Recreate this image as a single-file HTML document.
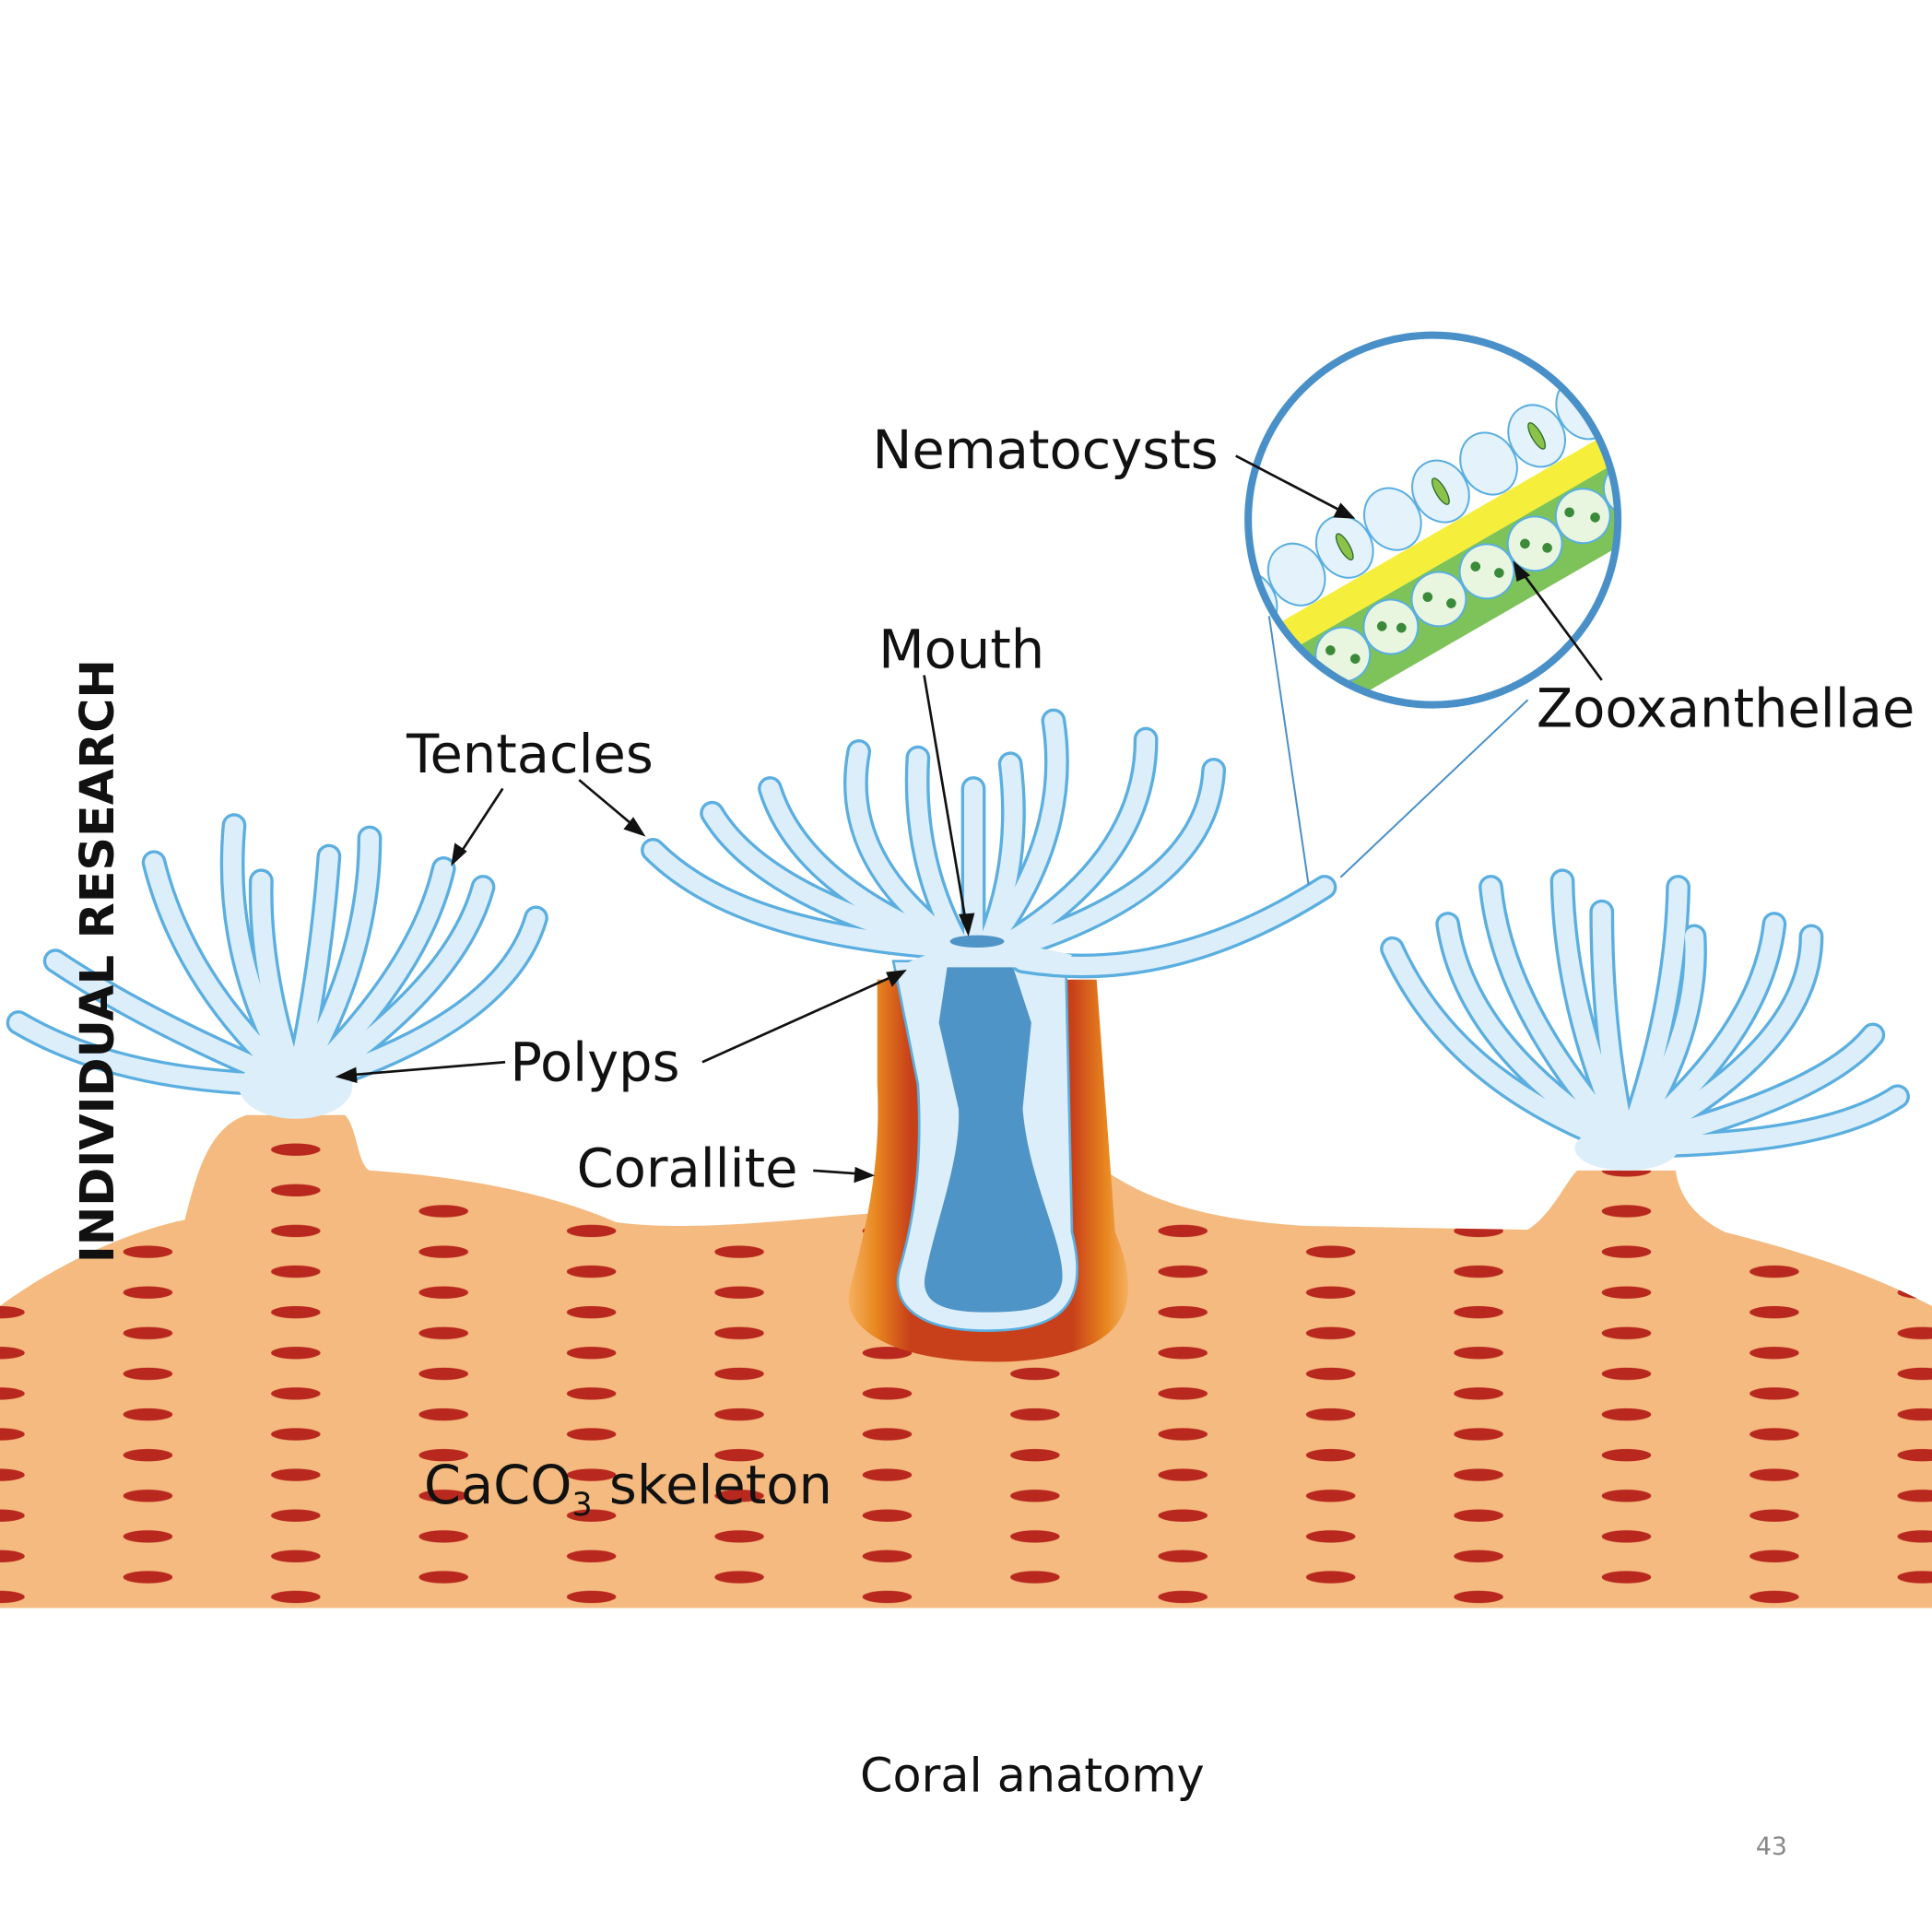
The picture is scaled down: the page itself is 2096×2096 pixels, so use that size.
<!DOCTYPE html>
<html><head><meta charset="utf-8"><style>
html,body{margin:0;padding:0;background:#fff;width:2096px;height:2096px;overflow:hidden}
svg{display:block}
text{font-family:"DejaVu Sans","Liberation Sans",sans-serif;fill:#111}
</style></head><body>
<svg width="2096" height="2096" viewBox="0 0 1568 1568" xmlns="http://www.w3.org/2000/svg">
<defs>
<pattern id="dash" x="0" y="1040" width="240" height="33" patternUnits="userSpaceOnUse">
<ellipse cx="120" cy="9" rx="20" ry="5" fill="#B8281E"/>
<ellipse cx="0" cy="25" rx="20" ry="5" fill="#B8281E"/>
<ellipse cx="240" cy="25" rx="20" ry="5" fill="#B8281E"/>
</pattern>
<linearGradient id="cor" x1="0" x2="1">
<stop offset="0" stop-color="#F5B060"/><stop offset="0.1" stop-color="#E8861E"/><stop offset="0.22" stop-color="#C8401A"/><stop offset="0.8" stop-color="#C8401A"/><stop offset="0.92" stop-color="#E8861E"/><stop offset="1" stop-color="#F5B060"/>
</linearGradient>
<clipPath id="circ"><circle cx="1163" cy="422" r="150"/></clipPath>
<g id="tp">
<path d="M780,770 Q600,760 530,690"/><path d="M780,770 Q620,730 578,660"/>
<path d="M780,770 Q650,720 625,640"/><path d="M780,770 Q680,700 697,610"/>
<path d="M780,770 Q740,700 745,615"/><path d="M790,770 Q790,700 790,640"/>
<path d="M800,770 Q830,700 820,620"/><path d="M800,770 Q870,680 855,585"/>
<path d="M810,770 Q930,700 930,600"/><path d="M820,770 Q980,720 985,625"/>
<path d="M830,780 Q950,800 1075,720"/>
<path d="M240,880 Q100,880 15,830"/><path d="M240,880 Q120,830 45,780"/>
<path d="M240,880 Q150,800 125,700"/><path d="M240,880 Q180,780 190,670"/>
<path d="M240,880 Q210,790 212,715"/><path d="M240,880 Q260,790 267,695"/>
<path d="M240,880 Q300,780 300,680"/><path d="M245,880 Q340,790 360,705"/>
<path d="M250,880 Q370,800 392,720"/><path d="M250,880 Q410,830 435,745"/>
<path d="M1320,930 Q1180,880 1130,770"/><path d="M1320,930 Q1190,850 1175,750"/>
<path d="M1320,930 Q1220,820 1210,720"/><path d="M1320,930 Q1270,820 1268,715"/>
<path d="M1320,930 Q1300,840 1300,740"/><path d="M1320,930 Q1360,820 1362,720"/>
<path d="M1320,930 Q1380,840 1375,760"/><path d="M1320,930 Q1430,840 1440,750"/>
<path d="M1320,930 Q1470,850 1470,760"/><path d="M1320,930 Q1480,890 1520,840"/>
<path d="M1320,930 Q1480,930 1540,890"/>
</g>
</defs>
<rect width="1568" height="1568" fill="#fff"/>
<!-- skeleton -->
<path d="M0,1060 C40,1030 100,1000 150,990 C160,950 170,915 200,905 L280,905 C290,915 290,945 300,950 C380,955 450,970 500,992 C560,1000 640,990 705,985 L890,945 C930,975 980,990 1060,995 L1240,998 C1260,985 1270,960 1280,950 L1360,950 C1362,965 1370,985 1400,1000 C1480,1020 1530,1040 1568,1060 L1568,1305 L0,1305 Z" fill="#F4BA7F"/>
<path d="M0,1060 C40,1030 100,1000 150,990 C160,950 170,915 200,905 L280,905 C290,915 290,945 300,950 C380,955 450,970 500,992 C560,1000 640,990 705,985 L890,945 C930,975 980,990 1060,995 L1240,998 C1260,985 1270,960 1280,950 L1360,950 C1362,965 1370,985 1400,1000 C1480,1020 1530,1040 1568,1060 L1568,1305 L0,1305 Z" fill="url(#dash)"/>
<!-- corallite -->
<path d="M712,795 L890,795 L905,1000 C930,1060 915,1100 820,1105 C730,1108 680,1080 690,1045 C705,990 715,940 712,880 Z" fill="url(#cor)"/>
<path d="M725,780 L865,780 L870,1000 C885,1060 860,1080 800,1080 C750,1080 722,1062 730,1030 C745,980 748,930 745,880 Z" fill="#DCEEFA" stroke="#5AAEE0" stroke-width="2"/>
<path d="M772,763 L815,763 L837,830 L830,900 C835,960 865,1010 862,1040 C858,1060 840,1065 800,1065 C760,1065 745,1055 752,1030 C760,990 780,940 778,900 L762,830 Z" fill="#4E94C6"/>
<!-- tentacles -->
<g fill="none" stroke-linecap="round" stroke-linejoin="round">
<use href="#tp" stroke="#5AAEE0" stroke-width="20"/>
<use href="#tp" stroke="#DCEEFA" stroke-width="15"/>
</g>
<ellipse cx="240" cy="882" rx="46" ry="26" fill="#DCEEFA"/>
<ellipse cx="1320" cy="932" rx="42" ry="18" fill="#DCEEFA"/>
<path d="M735,782 Q790,755 870,775 L865,785 L735,785 Z" fill="#DCEEFA"/>
<ellipse cx="793" cy="764" rx="22" ry="5" fill="#4E94C6"/>
<!-- inset -->
<line x1="1030" y1="500" x2="1062" y2="718" stroke="#4A90C8" stroke-width="1.5"/>
<line x1="1240" y1="568" x2="1088" y2="712" stroke="#4A90C8" stroke-width="1.5"/>
<circle cx="1163" cy="422" r="150" fill="#fff"/>
<g clip-path="url(#circ)">
<g transform="rotate(-30 1163 422)">
<rect x="950" y="432" width="430" height="24" fill="#F5EE3A"/>
<rect x="950" y="456" width="430" height="60" fill="#7DC35A"/>
<g fill="#E3F2FB" stroke="#5AAEE0" stroke-width="1.5">
<ellipse cx="1000" cy="405" rx="22" ry="26"/><ellipse cx="1045" cy="405" rx="22" ry="26"/><ellipse cx="1090" cy="405" rx="22" ry="26"/><ellipse cx="1135" cy="405" rx="22" ry="26"/><ellipse cx="1180" cy="405" rx="22" ry="26"/><ellipse cx="1225" cy="405" rx="22" ry="26"/><ellipse cx="1270" cy="405" rx="22" ry="26"/><ellipse cx="1315" cy="405" rx="22" ry="26"/>
</g>
<g fill="#E8F6E0" stroke="#5AAEE0" stroke-width="1.5">
<circle cx="1000" cy="480" r="22"/><circle cx="1045" cy="480" r="22"/><circle cx="1090" cy="480" r="22"/><circle cx="1135" cy="480" r="22"/><circle cx="1180" cy="480" r="22"/><circle cx="1225" cy="480" r="22"/><circle cx="1270" cy="480" r="22"/><circle cx="1315" cy="480" r="22"/>
</g>
<g fill="#3A8A3A">
<circle cx="992" cy="474" r="4"/><circle cx="1006" cy="486" r="4"/><circle cx="1038" cy="472" r="4"/><circle cx="1052" cy="488" r="4"/><circle cx="1084" cy="476" r="4"/><circle cx="1097" cy="485" r="4"/><circle cx="1128" cy="474" r="4"/><circle cx="1142" cy="488" r="4"/><circle cx="1174" cy="472" r="4"/><circle cx="1188" cy="486" r="4"/><circle cx="1218" cy="476" r="4"/><circle cx="1232" cy="488" r="4"/><circle cx="1262" cy="472" r="4"/><circle cx="1278" cy="486" r="4"/><circle cx="1308" cy="476" r="4"/><circle cx="1322" cy="486" r="4"/>
</g>
<g fill="#8BC34A" stroke="#2E6B2E" stroke-width="1">
<ellipse cx="1000" cy="405" rx="4" ry="12"/><ellipse cx="1090" cy="405" rx="4" ry="12"/><ellipse cx="1180" cy="405" rx="4" ry="12"/><ellipse cx="1270" cy="405" rx="4" ry="12"/>
</g>
</g>
</g>
<circle cx="1163" cy="422" r="150" fill="none" stroke="#4A90C8" stroke-width="6"/>
<!-- arrows -->
<g stroke="#111" stroke-width="2" fill="none">
<path d="M1003,370 L1095,418"/><path d="M1300,552 L1232,460"/>
<path d="M750,548 L785,755"/><path d="M408,640 L370,698"/><path d="M470,633 L520,675"/>
<path d="M410,862 L278,873"/><path d="M570,862 L730,790"/><path d="M660,950 L703,953"/>
</g>
<g fill="#111">
<path d="M1100,421 L1082,420 L1088,408 Z"/>
<path d="M1228,455 L1242,467 L1231,472 Z"/>
<path d="M786,760 L778,742 L791,741 Z"/>
<path d="M366,703 L369,684 L379,691 Z"/>
<path d="M524,679 L506,673 L514,663 Z"/>
<path d="M272,874 L289,866 L290,879 Z"/>
<path d="M736,787 L724,801 L719,789 Z"/>
<path d="M710,954 L693,960 L694,947 Z"/>
</g>
<!-- labels -->
<text x="708" y="380" font-size="43">Nematocysts</text>
<text x="713" y="542" font-size="43">Mouth</text>
<text x="330" y="627" font-size="43">Tentacles</text>
<text x="414" y="877" font-size="43">Polyps</text>
<text x="468" y="963" font-size="43">Corallite</text>
<text x="1247" y="590" font-size="43">Zooxanthellae</text>
<text x="344" y="1220" font-size="43">CaCO<tspan font-size="26" dy="10">3</tspan><tspan dy="-10"> skeleton</tspan></text>
<text transform="translate(92,1025) rotate(-90)" font-family="Liberation Sans,sans-serif" font-weight="bold" font-size="38">INDIVIDUAL RESEARCH</text>
<text x="698" y="1454" font-size="38" font-family="Liberation Sans,sans-serif">Coral anatomy</text>
<text x="1425" y="1505" font-size="20" style="fill:#888">43</text>
</svg>
</body></html>
